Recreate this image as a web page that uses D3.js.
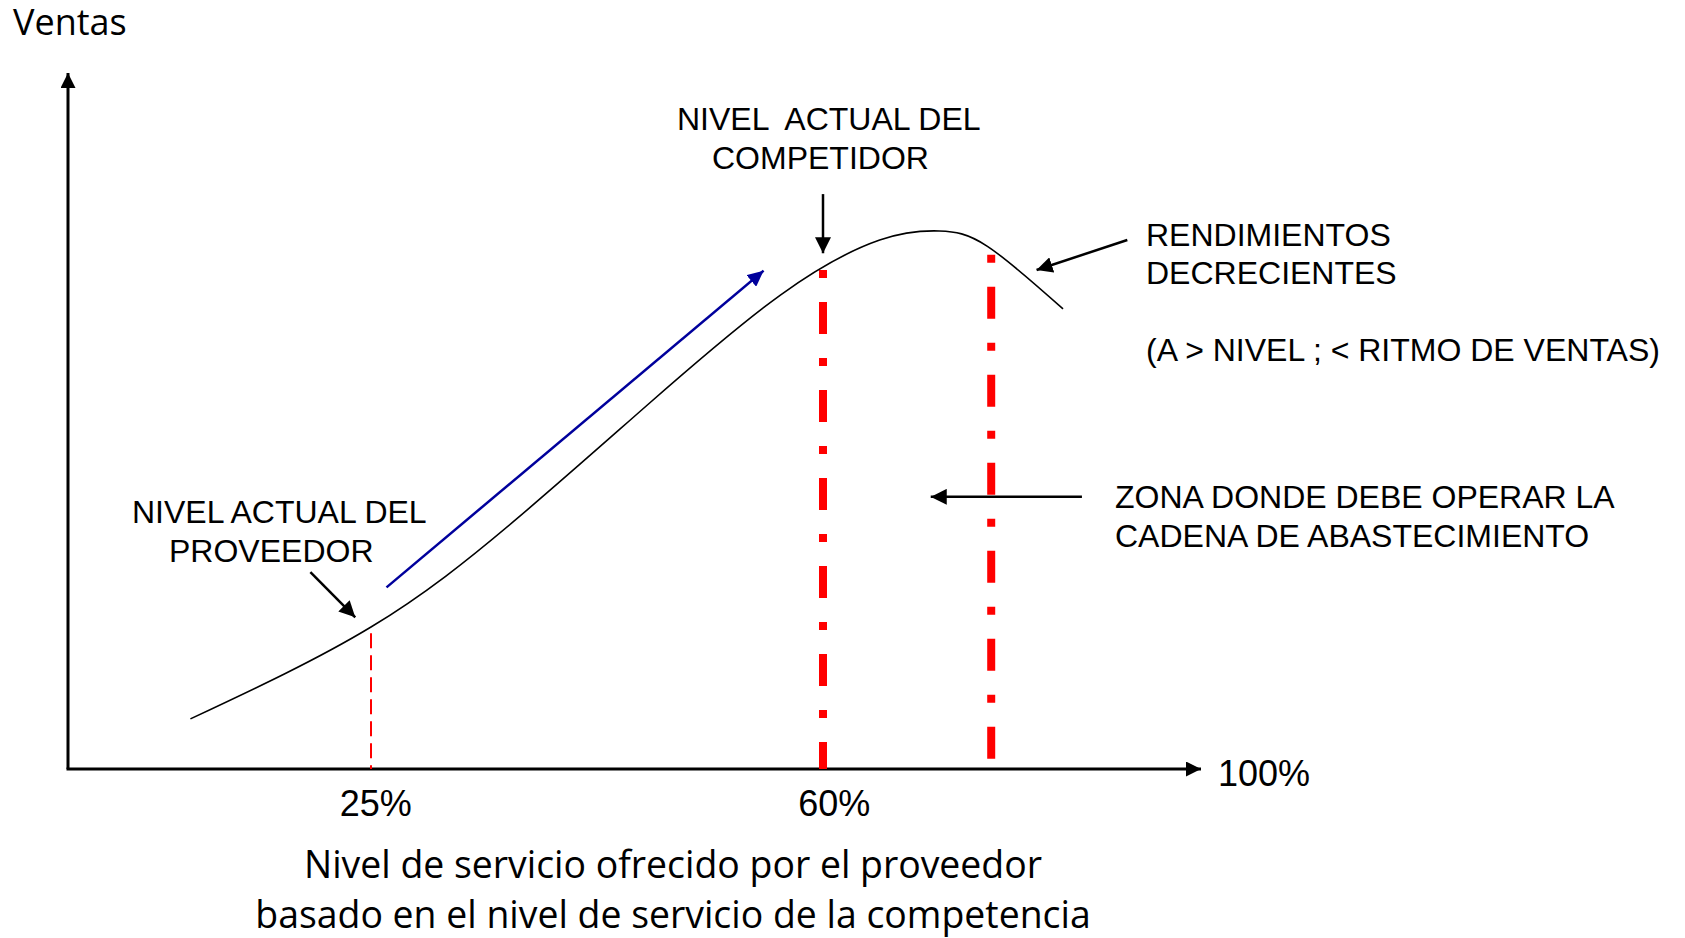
<!DOCTYPE html>
<html>
<head>
<meta charset="utf-8">
<script src="https://cdn.jsdelivr.net/npm/d3@7"></script>
<style>
  body { margin: 0; background: #fff; }
  svg { display: block; }
  .arial { font-family: "Liberation Sans", Arial, sans-serif; fill: #000; }
  .calibri { font-family: "Open Sans", Lato, sans-serif; fill: #000; }
</style>
</head>
<body>
<div id="chart"></div>
<script>
// curva: nivel de servicio (%) contra ventas (unidades relativas)
var curveX = [10.1, 25, 36.0, 46.4, 56.7, 66.0, 72.3, 77.4, 85.4];
var curveY = [7.2, 20.4, 35.5, 52.3, 68.1, 76.0, 77.3, 75.1, 66.1];

var tickValues = [25, 60];
var tickLabels = ["25%", "60%"];
var endLabel = "100%";

// lineas de referencia verticales
var refX = [25, 60, 77.8];
var refTop = [19.5, 71.7, 73.9];
var refBottom = [0, 0, 1.4];
var refStyle = ["thin", "thick", "thick"];

// flechas de anotacion (x1, y1) -> (x2, y2)
var arrowX1 = [60, 92.2, 20.0, 87.4];
var arrowY1 = [82.6, 76.0, 28.3, 39.1];
var arrowX2 = [60, 82.6, 23.7, 71.4];
var arrowY2 = [74.1, 71.7, 21.8, 39.1];

// flecha azul (tendencia)
var trendX = [26.2, 55.4];
var trendY = [26.1, 71.6];

var W = 1685, H = 938;

var svg = d3.select("#chart").append("svg").attr("width", W).attr("height", H)

var x = d3.scaleLinear().domain([0, 25, 60, 100]).range([68, 371, 823, 1201]);
var y = d3.scaleLinear().domain([0, 100]).range([769, 73]);

var defs = svg.append("defs")
function marker(id, color, len, half) {
  defs.append("marker")
    .attr("id", id)
    .attr("markerUnits", "userSpaceOnUse")
    .attr("viewBox", "0 " + (-half) + " " + len + " " + (2 * half))
    .attr("refX", len)
    .attr("refY", 0)
    .attr("markerWidth", len)
    .attr("markerHeight", 2 * half)
    .attr("orient", "auto")
    .append("path")
    .attr("d", "M0," + (-half) + "L" + len + ",0L0," + half + "Z")
    .attr("fill", color)
}
marker("arrowAxis", "#000", 15, 7.5)
marker("arrowNote", "#000", 16, 8)
marker("arrowBlue", "#00009c", 16, 7.5)

// ejes
svg.append("line")
  .attr("x1", x(0)).attr("y1", y(0))
  .attr("x2", x(0)).attr("y2", y(100))
  .attr("stroke", "#000").attr("stroke-width", 3)
  .attr("marker-end", "url(#arrowAxis)")

svg.append("line")
  .attr("x1", x(0) - 1.5).attr("y1", y(0))
  .attr("x2", x(100)).attr("y2", y(0))
  .attr("stroke", "#000").attr("stroke-width", 3)
  .attr("marker-end", "url(#arrowAxis)")

var xAxis = svg.append("g")
  .attr("transform", "translate(0," + y(0) + ")")
  .call(d3.axisBottom(x).tickValues(tickValues).tickSize(0).tickPadding(21)
    .tickFormat(function (d, i) { return tickLabels[i]; }))
xAxis.select(".domain").remove()
xAxis.selectAll("text")
  .attr("class", "arial")
  .attr("dx", (d, i) => i ? "0.3em" : "0.12em")
  .style("font-size", "36px")

svg.append("text")
  .attr("class", "arial")
  .attr("x", x(100) + 17)
  .attr("y", y(0) + 17)
  .style("font-size", "36px")
  .text(endLabel)

// lineas verticales rojas
svg.selectAll(".ref")
  .data(refX)
  .enter()
  .append("line")
  .attr("class", "ref")
  .attr("x1", d => x(d)).attr("x2", d => x(d))
  .attr("y1", (d, i) => y(refTop[i]))
  .attr("y2", (d, i) => y(refBottom[i]))
  .attr("stroke", "#ff0000")
  .attr("stroke-width", (d, i) => refStyle[i] == "thin" ? 2 : 8)
  .attr("stroke-dasharray", (d, i) => refStyle[i] == "thin" ? "15,7" : "8,24,32,24")

// curva de ventas
var pts = curveX.map(function (d, i) { return [d, curveY[i]]; })
var line = d3.line()
  .x(d => x(d[0]))
  .y(d => y(d[1]))
  .curve(d3.curveNatural)

svg.append("path")
  .datum(pts)
  .attr("d", line)
  .attr("fill", "none")
  .attr("stroke", "#000")
  .attr("stroke-width", 1.6)

// flecha azul
svg.append("line")
  .attr("x1", x(trendX[0])).attr("y1", y(trendY[0]))
  .attr("x2", x(trendX[1])).attr("y2", y(trendY[1]))
  .attr("stroke", "#00009c").attr("stroke-width", 2.5)
  .attr("marker-end", "url(#arrowBlue)")

// flechas negras de anotacion
svg.selectAll(".note")
  .data(arrowX1)
  .enter()
  .append("line")
  .attr("class", "note")
  .attr("x1", d => x(d))
  .attr("y1", (d, i) => y(arrowY1[i]))
  .attr("x2", (d, i) => x(arrowX2[i]))
  .attr("y2", (d, i) => y(arrowY2[i]))
  .attr("stroke", "#000").attr("stroke-width", 2.5)
  .attr("marker-end", "url(#arrowNote)")

// textos
function label(lines, xs, y0, step, size, cls, anchor) {
  lines.forEach(function (t, i) {
    svg.append("text")
      .attr("class", cls)
      .attr("x", xs[i])
      .attr("y", y0 + i * step)
      .attr("text-anchor", anchor || "start")
      .style("font-size", size + "px")
      .style("white-space", "pre")
      .text(t)
  })
}

label(["Ventas"], [13], 35, 0, 36, "calibri")
label(["NIVEL  ACTUAL DEL", "COMPETIDOR"], [677, 712], 130, 38.5, 32, "arial")
label(["NIVEL ACTUAL DEL", "PROVEEDOR"], [132, 169], 523, 38.5, 32, "arial")
label(["RENDIMIENTOS", "DECRECIENTES", "", "(A > NIVEL ; < RITMO DE VENTAS)"], [1146, 1146, 1146, 1146], 246, 38.3, 32, "arial")
label(["ZONA DONDE DEBE OPERAR LA", "CADENA DE ABASTECIMIENTO"], [1115, 1115], 508, 39, 32, "arial")
label(["Nivel de servicio ofrecido por el proveedor", "basado en el nivel de servicio de la competencia"], [673, 673], 878, 50, 37.4, "calibri", "middle")
</script>
</body>
</html>
